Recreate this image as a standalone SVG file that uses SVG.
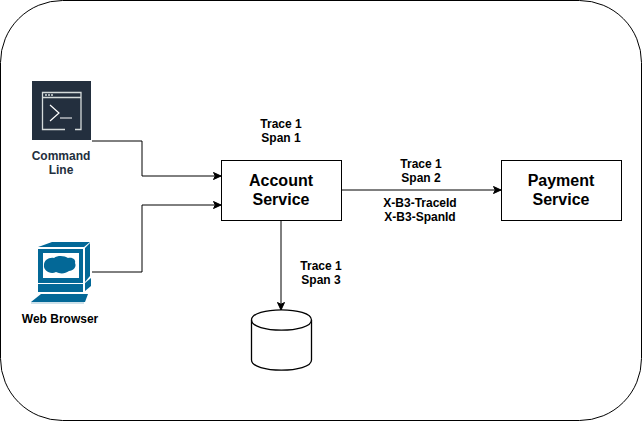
<svg xmlns="http://www.w3.org/2000/svg" width="642" height="421" viewBox="0 0 642 421">
<defs><marker id="arr" markerUnits="userSpaceOnUse" markerWidth="10" markerHeight="10" refX="8" refY="4" orient="auto"><path d="M0.5 0.5L8 4L0.5 7.5L2.3 4Z" fill="#000" stroke="#000" stroke-width="1"/></marker></defs>
<style>
text{font-family:"Liberation Sans",Arial,sans-serif;font-weight:700;text-anchor:middle;fill:#000}
.s{font-size:12px}.b{font-size:16px}
.box{fill:#fff;stroke:#000;stroke-width:1}
.c{fill:none;stroke:#000;stroke-width:1;marker-end:url(#arr)}
.ic{fill:#036897}
</style>
<rect x="0.5" y="0.5" width="641" height="420" rx="62" fill="#fff" stroke="#000"/>
<g id="connectors">
<path class="c" d="M92 141H142V176H221"/>
<path class="c" d="M92 272H142V205H221"/>
<path class="c" d="M341 190H501"/>
<path class="c" d="M281 220V310"/>
</g>
<g id="command-line">
<rect x="32" y="81" width="59" height="59" fill="#232f3e"/>
<path d="M65 129.500H42.500V92.500H81V129.500H75" fill="none" stroke="#d5dbdb" stroke-width="1.300"/>
<path d="M42.500 97.500H81" fill="none" stroke="#d5dbdb" stroke-width="1.300"/>
<path d="M50 105L59 113L50 121M60 118H72" fill="none" stroke="#fff" stroke-width="1.200"/>
<path d="M45 95H53" stroke="#d5dbdb" stroke-width="1.500" stroke-dasharray="2 1"/>
<text class="s" x="61" y="160" style="fill:#232f3e">Command</text>
<text class="s" x="61" y="174" style="fill:#232f3e">Line</text>
</g>
<g id="web-browser">
<path class="ic" d="M41 246L52 242H90L84 247H38Z"/>
<path class="ic" d="M85 248L90 243V276L85 282Z"/>
<path class="ic" d="M38 249H83V283H38Z"/>
<rect x="43" y="253" width="36" height="25" fill="#fff"/>
<path class="ic" d="M44 265C44 260 49 257 54 258C58 255 65 256 68 258C73 257 76 260 75 263C77 267 73 271 69 271C65 274 60 274 56 272C50 275 43 270 44 265Z"/>
<path class="ic" d="M38 284H83V292H38Z"/>
<path class="ic" d="M85 283L91 278V286L85 291Z"/>
<path class="ic" d="M41 294H88L85 302H31Z"/>
<path d="M31 303H84" stroke="#9cc3d5" stroke-width="1" fill="none"/>
<text class="s" x="60" y="323">Web Browser</text>
</g>
<g id="account-service">
<rect class="box" x="221.500" y="160.500" width="120" height="60"/>
<text class="b" x="281" y="186">Account</text>
<text class="b" x="281" y="205">Service</text>
</g>
<g id="payment-service">
<rect class="box" x="501.500" y="160.500" width="120" height="60"/>
<text class="b" x="561" y="186">Payment</text>
<text class="b" x="561" y="205">Service</text>
</g>
<g id="database" fill="#fff" stroke="#000" stroke-width="1.300">
<path d="M251.500 320C251.500 306.500 311.500 306.500 311.500 320V360C311.500 373.500 251.500 373.500 251.500 360Z"/>
<path d="M251.500 320C251.500 333.500 311.500 333.500 311.500 320" fill="none"/>
</g>
<g id="labels">
<text class="s" x="281" y="128">Trace 1</text>
<text class="s" x="281" y="142">Span 1</text>
<text class="s" x="421" y="168">Trace 1</text>
<text class="s" x="421" y="182">Span 2</text>
<text class="s" x="420" y="207">X-B3-TraceId</text>
<text class="s" x="420" y="221">X-B3-SpanId</text>
<text class="s" x="321" y="270">Trace 1</text>
<text class="s" x="321" y="284">Span 3</text>
</g>
</svg>
